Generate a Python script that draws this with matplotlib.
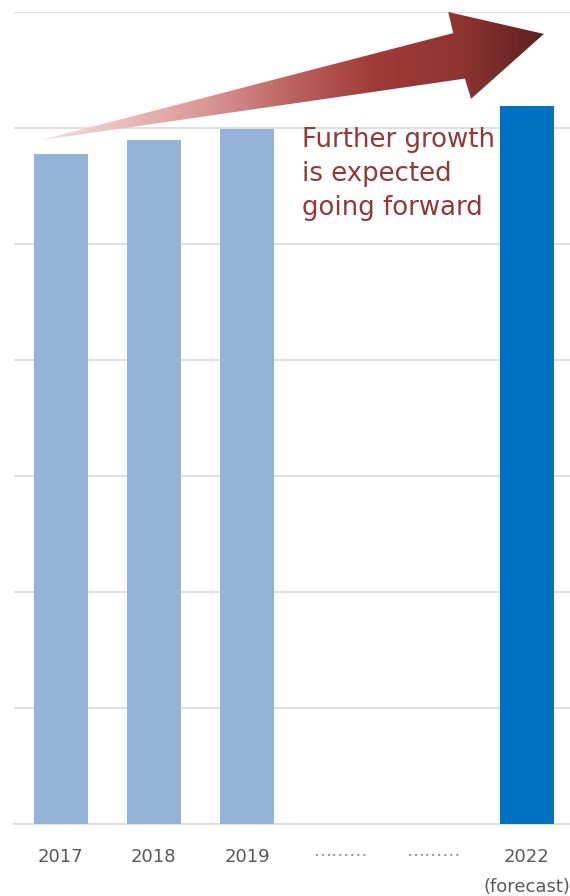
import matplotlib

matplotlib.use("Agg")

import numpy as np
import matplotlib.pyplot as plt
from matplotlib.colors import LinearSegmentedColormap
from matplotlib.patches import Polygon

GRID = "#D9D9D9"
TICK = "#595959"
PAST = "#95B3D7"
FORECAST = "#0070C0"
NOTE = "#953735"
ARROW_CMAP = LinearSegmentedColormap.from_list(
    "growth_arrow",
    ["#F5E1E1", "#E8BCBB", "#D99694", "#BD625F", "#9E3B38", "#8F3431", "#5E211F"],
)

# sales index by fiscal year (no scale printed on the chart)
labels = ["2017", "2018", "2019", "………", "………", "2022\n(forecast)"]
values = [2888, 2948, 2996, np.nan, np.nan, 3095]
bar_colors = [PAST, PAST, PAST, PAST, PAST, FORECAST]
y_ticks = [0, 500, 1000, 1500, 2000, 2500, 3000, 3500]
note = "Further growth\nis expected\ngoing forward"

# growth arrow outline, in axes fractions
arrow_shape = [
    (0.047, 0.842),
    (0.790, 0.974),
    (0.781, 1.000),
    (0.953, 0.973),
    (0.822, 0.893),
    (0.811, 0.918),
]

fig = plt.figure(figsize=(5.7, 8.96), dpi=100)
ax = fig.add_axes([14 / 570, 72 / 896, 556 / 570, 812 / 896])

x = np.arange(len(labels))
ax.bar(x, values, width=0.58, color=bar_colors, zorder=3)

ax.set_xlim(-0.5, -0.5 + 556 / 93.2)
ax.set_ylim(y_ticks[0], y_ticks[-1])
ax.set_yticks(y_ticks)
ax.set_yticklabels([])
ax.grid(True, axis="y", color=GRID, linewidth=1.2, zorder=0)
ax.set_axisbelow(True)
for side in ("top", "right", "left"):
    ax.spines[side].set_visible(False)
ax.spines["bottom"].set_color(GRID)
ax.spines["bottom"].set_linewidth(1.2)
ax.tick_params(axis="both", length=0)
ax.tick_params(axis="x", pad=17, labelsize=13, labelcolor=TICK)

ax.set_xticks(x)
ax.set_xticklabels(labels)
for lab in ax.get_xticklabels():
    lab.set_linespacing(1.85)
    lab.set_verticalalignment("top")
    if "…" in lab.get_text():
        lab.set_family(["Noto Sans CJK JP", "DejaVu Sans"])
        lab.set_color("#8C8C8C")

# gradient-filled arrow
poly = Polygon(arrow_shape, closed=True, transform=ax.transAxes, facecolor="none",
               edgecolor="none", clip_on=False)
ax.add_patch(poly)
xs = [p[0] for p in arrow_shape]
ys = [p[1] for p in arrow_shape]
grad = np.linspace(0, 1, 256).reshape(1, -1)
img = ax.imshow(grad, cmap=ARROW_CMAP, aspect="auto", interpolation="bilinear",
                extent=[min(xs), max(xs), min(ys), max(ys)], transform=ax.transAxes,
                zorder=4, clip_on=True)
img.set_clip_path(poly)
ax.set_xlim(-0.5, -0.5 + 556 / 93.2)
ax.set_ylim(y_ticks[0], y_ticks[-1])

ax.text(0.518, 0.858, note, transform=ax.transAxes, ha="left", va="top",
        fontsize=18.7, color=NOTE, linespacing=1.38, zorder=5)

fig.savefig("out.png", dpi=100)
